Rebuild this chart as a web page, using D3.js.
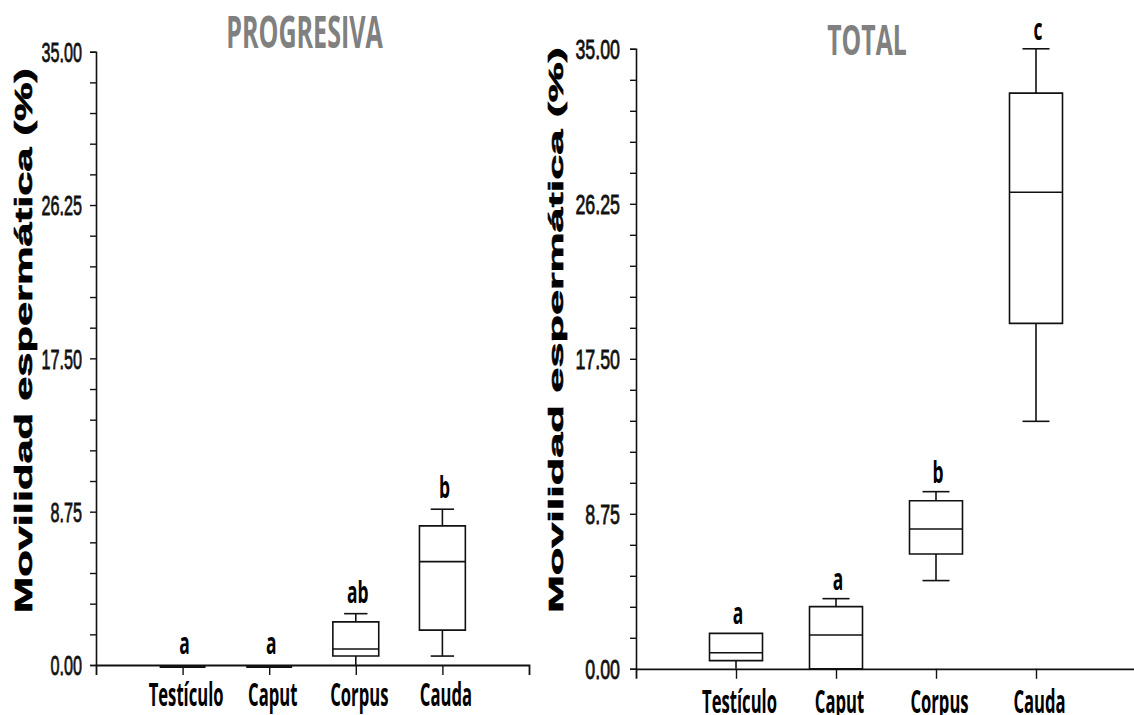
<!DOCTYPE html>
<html>
<head>
<meta charset="utf-8">
<script src="https://cdn.jsdelivr.net/npm/d3@7"></script>
<style>
  html, body { margin: 0; padding: 0; background: #fff; }
  svg { display: block; }
</style>
</head>
<body>
<svg id="chart" width="1134" height="715"></svg>
<script>
// ---------------- DATA ----------------
const categories = ["Testículo", "Caput", "Corpus", "Cauda"];
const yTickValues = [0, 8.75, 17.5, 26.25, 35];
const yMinorStep = 1.75;

// PROGRESIVA
const progMin    = [0, 0, 0,    0.51];
const progQ1     = [0, 0, 0.51, 1.99];
const progMedian = [0, 0, 0.91, 5.90];
const progQ3     = [0, 0, 2.46, 7.94];
const progMax    = [0, 0, 2.93, 8.89];
const progLetters = ["a", "a", "ab", "b"];

// TOTAL
const totMin    = [0,    0,    4.98, 13.97];
const totQ1     = [0.46, 0,    6.48, 19.50];
const totMedian = [0.91, 1.91, 7.89, 26.90];
const totQ3     = [2.00, 3.51, 9.49, 32.50];
const totMax    = [2.00, 3.96, 10.00, 35.00];
const totLetters = ["a", "a", "b", "c"];

const yLabel = "Movilidad espermática (%)";

// ---------------- DRAW ----------------
const svg = d3.select("#chart");
const INK = "#111";
const CAL = "'Open Sans', 'Lato', sans-serif";
const ARIAL = "'Liberation Sans', Arial, sans-serif";

function drawPanel(p) {
  const y = d3.scaleLinear().domain([0, 35]).range([p.yBottom, p.yTop]);
  const x = d3.scalePoint().domain(categories).range([p.xLeft, p.xRight]).padding(1);
  const step = x.step();
  const boxW = step * 0.53;
  const capW = step * 0.27;
  const g = svg.append("g");

  // Y axis
  const minorTicks = d3.range(0, 35 + 1e-9, yMinorStep);
  const yAxis = d3.axisLeft(y)
    .tickValues(minorTicks)
    .tickSize(6).tickSizeOuter(6)
    .tickFormat(v => yTickValues.some(t => Math.abs(t - v) < 1e-6) ? v.toFixed(2) : "");
  const ya = g.append("g").attr("transform", `translate(${p.xLeft},0)`).call(yAxis);
  ya.attr("font-size", null).attr("font-family", null);
  ya.select(".domain").attr("stroke", INK).attr("stroke-width", 1.6);
  ya.selectAll(".tick line").attr("stroke", INK).attr("stroke-width", 1.4);
  ya.selectAll(".tick text")
    .attr("x", null)
    .attr("transform", `translate(${-p.tickGap},0) scale(${p.tickSx},1)`)
    .attr("dy", "0.36em")
    .attr("fill", "#111")
    .attr("stroke", "#111")
    .attr("stroke-width", 0.8)
    .attr("font-family", ARIAL)
    .attr("font-size", 27);

  // X axis
  const xAxis = d3.axisBottom(x).tickSize(10).tickSizeOuter(10);
  const xa = g.append("g").attr("transform", `translate(0,${p.yBottom})`).call(xAxis);
  xa.attr("font-size", null).attr("font-family", null);
  xa.select(".domain").attr("stroke", INK).attr("stroke-width", 1.8);
  xa.selectAll(".tick line").attr("stroke", INK).attr("stroke-width", 1.4);
  xa.selectAll(".tick text")
    .attr("y", 0).attr("dy", null)
    .attr("transform", `translate(3,${p.xLabelBase - p.yBottom}) scale(0.52,1)`)
    .attr("fill", "#000")
    .attr("font-family", CAL)
    .attr("font-weight", 700)
    .attr("font-size", 32);

  // Boxes
  categories.forEach((c, i) => {
    const cx = x(c);
    const bg = g.append("g").attr("fill", "none").attr("stroke", INK).attr("stroke-width", 1.6);
    const yMin = y(p.min[i]), yQ1 = y(p.q1[i]), yMed = y(p.median[i]), yQ3 = y(p.q3[i]), yMax = y(p.max[i]);
    if (p.max[i] > p.q3[i]) {
      bg.append("line").attr("x1", cx).attr("x2", cx).attr("y1", yQ3).attr("y2", yMax);
      bg.append("line").attr("x1", cx - capW / 2).attr("x2", cx + capW / 2).attr("y1", yMax).attr("y2", yMax);
    }
    if (p.min[i] < p.q1[i]) {
      bg.append("line").attr("x1", cx).attr("x2", cx).attr("y1", yQ1).attr("y2", yMin);
      if (p.min[i] > 0)
        bg.append("line").attr("x1", cx - capW / 2).attr("x2", cx + capW / 2).attr("y1", yMin).attr("y2", yMin);
    }
    const flat = p.q3[i] === p.q1[i];
    bg.append("path")
      .attr("d", `M${cx - boxW / 2},${yQ3}H${cx + boxW / 2}V${yQ1}H${cx - boxW / 2}Z`)
      .attr("stroke-width", flat ? 3 : 1.6)
      .attr("transform", flat ? "translate(0,1.5)" : null)
      .attr("fill", "#fff");
    if (!flat) {
      bg.append("line").attr("x1", cx - boxW / 2).attr("x2", cx + boxW / 2).attr("y1", yMed).attr("y2", yMed);
    }
    g.append("text")
      .attr("transform", `translate(${cx + 2},${yMax - p.letterGap}) scale(0.58,1)`)
      .attr("text-anchor", "middle")
      .attr("fill", "#000")
      .attr("font-family", CAL)
      .attr("font-weight", 700)
      .attr("font-size", 30)
      .text(p.letters[i]);
  });

  // Title
  g.append("text")
    .attr("transform", `translate(${p.titleX},${p.titleY}) scale(${p.titleSx},1)`)
    .attr("text-anchor", "middle")
    .attr("fill", "#808080")
    .attr("font-family", CAL)
    .attr("font-weight", 700)
    .attr("font-size", p.titleSize)
    .text(p.title);

  // Y label: stretched along its length to fit the measured span
  const yl = g.append("text")
    .attr("text-anchor", "middle")
    .attr("fill", "#000")
    .attr("stroke", "#000")
    .attr("stroke-width", 0.6)
    .attr("font-family", ARIAL)
    .attr("font-weight", 700)
    .attr("font-size", p.ylSize)
    .text(yLabel);
  const natural = yl.node().getComputedTextLength();
  const sAlong = p.ylLen / natural;
  yl.attr("transform", `translate(${p.ylX},${p.ylCY}) rotate(-90) scale(${sAlong},1)`);
}

drawPanel({
  xLeft: 96, xRight: 529, yBottom: 665, yTop: 51.7,
  min: progMin, q1: progQ1, median: progMedian, q3: progQ3, max: progMax,
  letters: progLetters, letterGap: 11,
  tickGap: 14, tickSx: 0.6, xLabelBase: 706,
  title: "PROGRESIVA", titleX: 304.5, titleY: 48.3, titleSize: 44, titleSx: 0.57,
  ylX: 32, ylCY: 340.5, ylLen: 545, ylSize: 23.3
});

drawPanel({
  xLeft: 636, xRight: 1136, yBottom: 668.8, yTop: 48.8,
  min: totMin, q1: totQ1, median: totMedian, q3: totQ3, max: totMax,
  letters: totLetters, letterGap: 9,
  tickGap: 16, tickSx: 0.66, xLabelBase: 713,
  title: "TOTAL", titleX: 867, titleY: 55, titleSize: 42, titleSx: 0.59,
  ylX: 563.3, ylCY: 330, ylLen: 566, ylSize: 21
});
</script>
</body>
</html>
